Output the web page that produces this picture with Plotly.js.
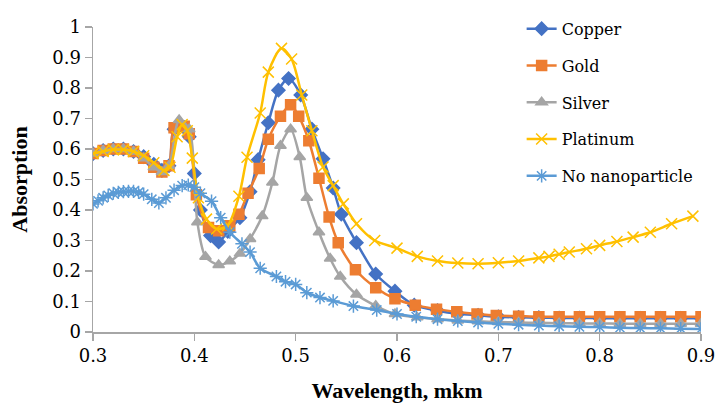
<!DOCTYPE html>
<html>
<head>
<meta charset="utf-8">
<script src="https://cdn.plot.ly/plotly-3.0.1.min.js"></script>
<style>html,body{margin:0;padding:0;background:#fff;}#chart{width:716px;height:409px;}</style>
</head>
<body>
<div id="chart"></div>
<script>
// Copper
const copperX = [0.300,0.310,0.320,0.330,0.340,0.350,0.360,0.368,0.375,0.380,0.390,0.395,0.400,0.406,0.416,0.424,0.433,0.445,0.455,0.463,0.473,0.483,0.493,0.505,0.516,0.527,0.537,0.545,0.560,0.579,0.598,0.617,0.640,0.660,0.680,0.700,0.720,0.740,0.760,0.780,0.800,0.820,0.840,0.860,0.880,0.900];
const copperY = [0.585,0.595,0.600,0.600,0.592,0.575,0.550,0.530,0.545,0.665,0.670,0.640,0.520,0.400,0.316,0.295,0.330,0.375,0.460,0.565,0.686,0.793,0.831,0.777,0.665,0.568,0.472,0.386,0.293,0.190,0.134,0.088,0.070,0.060,0.055,0.050,0.048,0.047,0.046,0.046,0.045,0.045,0.045,0.045,0.045,0.045];
// Gold
const goldX = [0.300,0.310,0.320,0.330,0.340,0.350,0.360,0.368,0.375,0.380,0.390,0.395,0.402,0.414,0.424,0.435,0.444,0.453,0.464,0.473,0.485,0.495,0.503,0.513,0.523,0.533,0.542,0.559,0.579,0.598,0.618,0.639,0.659,0.679,0.698,0.720,0.740,0.760,0.780,0.800,0.820,0.840,0.860,0.880,0.900];
const goldY = [0.585,0.595,0.600,0.600,0.592,0.570,0.540,0.525,0.545,0.670,0.675,0.650,0.450,0.343,0.332,0.348,0.386,0.455,0.536,0.632,0.707,0.745,0.707,0.627,0.504,0.377,0.293,0.204,0.145,0.109,0.088,0.075,0.066,0.059,0.054,0.052,0.050,0.050,0.050,0.050,0.050,0.050,0.050,0.050,0.050];
// Silver
const silverX = [0.300,0.310,0.320,0.330,0.340,0.350,0.360,0.368,0.375,0.385,0.395,0.403,0.411,0.424,0.435,0.445,0.455,0.467,0.477,0.485,0.495,0.504,0.511,0.523,0.534,0.544,0.560,0.579,0.598,0.620,0.640,0.660,0.680,0.700,0.720,0.740,0.760,0.780,0.800,0.820,0.840,0.860,0.880,0.900];
const silverY = [0.585,0.595,0.600,0.600,0.592,0.570,0.540,0.525,0.545,0.695,0.665,0.360,0.247,0.220,0.232,0.257,0.305,0.380,0.490,0.611,0.665,0.574,0.440,0.327,0.241,0.182,0.123,0.086,0.059,0.048,0.042,0.038,0.035,0.033,0.031,0.030,0.029,0.028,0.028,0.027,0.027,0.027,0.027,0.027];
// Platinum
const platinumX = [0.300,0.310,0.320,0.330,0.340,0.350,0.360,0.370,0.376,0.383,0.388,0.393,0.398,0.404,0.412,0.422,0.433,0.444,0.452,0.465,0.473,0.486,0.496,0.506,0.516,0.527,0.537,0.547,0.560,0.578,0.600,0.620,0.640,0.660,0.680,0.700,0.720,0.740,0.750,0.760,0.770,0.787,0.800,0.817,0.833,0.850,0.871,0.892];
const platinumY = [0.585,0.592,0.598,0.598,0.592,0.578,0.555,0.530,0.540,0.640,0.680,0.660,0.570,0.440,0.370,0.338,0.350,0.445,0.573,0.718,0.852,0.930,0.895,0.777,0.660,0.541,0.480,0.420,0.355,0.300,0.275,0.248,0.233,0.226,0.224,0.227,0.233,0.243,0.248,0.255,0.262,0.273,0.284,0.297,0.311,0.327,0.355,0.380];
// No nanoparticle
const noneX = [0.300,0.305,0.310,0.315,0.320,0.325,0.330,0.335,0.340,0.345,0.350,0.358,0.365,0.372,0.380,0.388,0.394,0.400,0.406,0.417,0.426,0.435,0.447,0.455,0.465,0.481,0.490,0.500,0.511,0.524,0.537,0.557,0.580,0.600,0.619,0.640,0.660,0.680,0.700,0.720,0.740,0.760,0.780,0.800,0.820,0.840,0.860,0.880,0.900];
const noneY = [0.420,0.430,0.440,0.448,0.455,0.458,0.460,0.461,0.461,0.458,0.452,0.435,0.423,0.440,0.465,0.480,0.482,0.475,0.455,0.429,0.375,0.327,0.289,0.262,0.209,0.182,0.165,0.156,0.129,0.113,0.102,0.085,0.072,0.059,0.050,0.042,0.036,0.031,0.027,0.024,0.021,0.019,0.017,0.016,0.014,0.013,0.012,0.011,0.010];

const seriesNames = ['Copper','Gold','Silver','Platinum','No nanoparticle'];
const seriesColors = ['#4472C4','#ED7D31','#A5A5A5','#FFC000','#5B9BD5'];
const seriesSymbols = ['diamond','square','triangle-up','x-thin-open','asterisk-open'];
const seriesSizes = [10,10,10,11,11];
const xs = [copperX, goldX, silverX, platinumX, noneX];
const ys = [copperY, goldY, silverY, platinumY, noneY];

const traces = seriesNames.map((n,i)=>({
  type:'scatter', mode:'lines+markers', name:n, x:xs[i], y:ys[i],
  legendgroup:'g'+i,
  line:{color:seriesColors[i], width:2.5, shape:'spline', smoothing:0.8},
  marker:{symbol:seriesSymbols[i], size:seriesSizes[i], color:seriesColors[i], line:{color:seriesColors[i], width:1.5}}
}));

const titleFont = 'Liberation Serif';
const font = 'DejaVu Serif';
const layout = {
  width:716, height:409,
  margin:{l:93, r:15, t:21, b:77},
  paper_bgcolor:'#fff', plot_bgcolor:'#fff',
  font:{family:font, size:16, color:'#000'},
  showlegend:true,
  legend:{x:0.705, y:1.05, xanchor:'left', yanchor:'top', font:{family:font, size:16, color:'#000'}, tracegroupgap:13, itemwidth:30, bgcolor:'rgba(0,0,0,0)'},
  xaxis:{range:[0.3,0.9], tickvals:[0.3,0.4,0.5,0.6,0.7,0.8,0.9], ticktext:['0.3','0.4','0.5','0.6','0.7','0.8','0.9'],
    showgrid:false, zeroline:false, showline:true, linecolor:'#A6A6A6', linewidth:1.5,
    ticks:'outside', ticklen:7, tickcolor:'#A6A6A6', tickwidth:1.5,
    tickfont:{family:font, size:18, color:'#000'},
    title:{text:'<b>Wavelength, mkm</b>', font:{family:titleFont, size:22, color:'#000'}, standoff:17}},
  yaxis:{range:[0,1], tickvals:[0,0.1,0.2,0.3,0.4,0.5,0.6,0.7,0.8,0.9,1], ticktext:['0','0.1','0.2','0.3','0.4','0.5','0.6','0.7','0.8','0.9','1'],
    showgrid:false, zeroline:false, showline:true, linecolor:'#A6A6A6', linewidth:1.5,
    ticks:'outside', ticklen:7, tickcolor:'#A6A6A6', tickwidth:1.5,
    tickfont:{family:font, size:18, color:'#000'},
    title:{text:'<b>Absorption</b>', font:{family:titleFont, size:22, color:'#000'}, standoff:18}}
};
Plotly.newPlot('chart', traces, layout, {displayModeBar:false, staticPlot:true});
</script>
</body>
</html>
